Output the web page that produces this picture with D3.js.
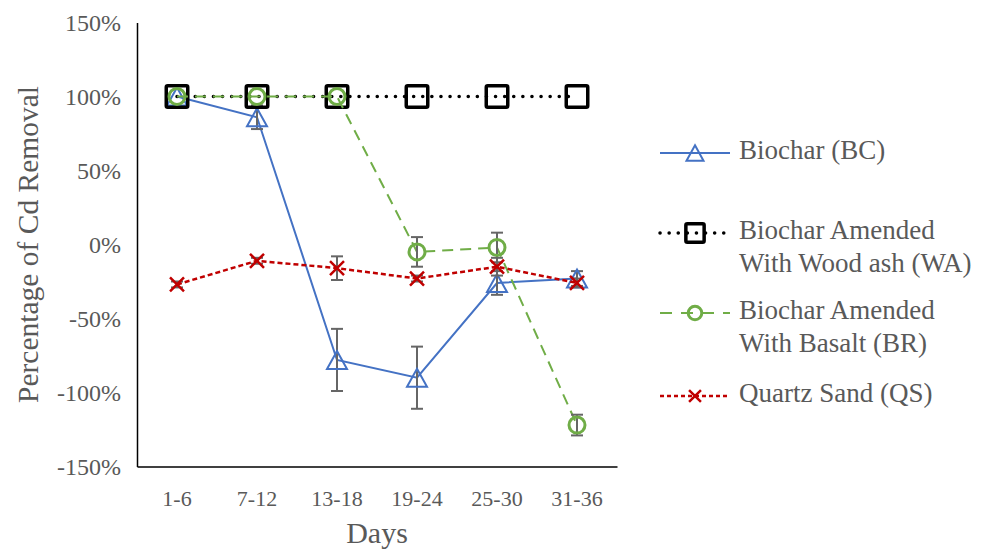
<!DOCTYPE html>
<html>
<head>
<meta charset="utf-8">
<script src="https://cdn.jsdelivr.net/npm/d3@7/dist/d3.min.js"></script>
<style>
  html, body { margin: 0; padding: 0; background: #fff; }
  svg { display: block; }
</style>
</head>
<body>
<svg id="chart" width="998" height="550"></svg>
<script>
// Sampling periods (days)
const categories = ["1-6", "7-12", "13-18", "19-24", "25-30", "31-36"];

// Cd removal (%) per series, with standard-error half widths
const bcValues = [100, 86, -78, -90, -26, -23];
const bcErrors = [0, 8, 21, 21, 8, 5];
const waValues = [100, 100, 100, 100, 100, 100];
const waErrors = [0, 0, 0, 0, 0, 0];
const brValues = [100, 100, 100, -5, -2, -122];
const brErrors = [0, 0, 0, 10, 10, 7];
const qsValues = [-27, -11, -16, -23, -15, -26];
const qsErrors = [2, 2, 8, 2, 6, 3];

const yTicks = [-150, -100, -50, 0, 50, 100, 150];

const seriesNames = [
  ["Biochar (BC)"],
  ["Biochar Amended", "With Wood ash (WA)"],
  ["Biochar Amended", "With Basalt (BR)"],
  ["Quartz Sand (QS)"]
];

const series = [
  { name: seriesNames[0], values: bcValues, errors: bcErrors, color: "#4472C4", width: 2, dash: null, cap: "butt", marker: "triangle" },
  { name: seriesNames[1], values: waValues, errors: waErrors, color: "#000000", width: 3.5, dash: "0.1 9", cap: "round", marker: "square" },
  { name: seriesNames[2], values: brValues, errors: brErrors, color: "#70AD47", width: 2, dash: "11 7", cap: "butt", marker: "circle" },
  { name: seriesNames[3], values: qsValues, errors: qsErrors, color: "#C00000", width: 2.5, dash: "5 3", cap: "butt", marker: "cross" }
];

const FONT = "'Liberation Serif', 'DejaVu Serif', serif";
const TEXT_COLOR = "#595959";

const svg = d3.select("#chart");
const plotLeft = 137, plotRight = 617, plotTop = 22.5, plotBottom = 466.5;

const x = d3.scaleBand().domain(categories).range([plotLeft, plotRight]);
const y = d3.scaleLinear().domain([-150, 150]).range([plotBottom, plotTop]);
const cx = c => x(c) + x.bandwidth() / 2;

function styleText(sel, size) {
  sel.style("font-family", FONT).style("font-size", size + "px").style("fill", TEXT_COLOR);
}

// Axes
const yAxis = svg.append("g").attr("transform", `translate(${plotLeft},0)`)
  .call(d3.axisLeft(y).tickValues(yTicks).tickSize(0).tickPadding(16).tickFormat(d => d + "%"));
yAxis.attr("font-family", null);
yAxis.select(".domain").attr("stroke", "#000").attr("stroke-width", 1.5);
styleText(yAxis.selectAll("text"), 24);

const xAxis = svg.append("g").attr("transform", `translate(0,${plotBottom})`)
  .call(d3.axisBottom(x).tickSize(0).tickPadding(24));
xAxis.attr("font-family", null);
xAxis.select(".domain").attr("stroke", "#000").attr("stroke-width", 1.5);
styleText(xAxis.selectAll("text"), 22);

// Axis titles
styleText(svg.append("text")
  .attr("transform", `translate(31,${(plotTop + plotBottom) / 2}) rotate(-90)`)
  .attr("text-anchor", "middle").attr("dominant-baseline", "middle")
  .text("Percentage of Cd Removal"), 29.5);

styleText(svg.append("text")
  .attr("x", (plotLeft + plotRight) / 2).attr("y", 543)
  .attr("text-anchor", "middle")
  .text("Days"), 30);

// Marker shapes
function drawMarker(g, type, color, px, py, scale) {
  const s = scale || 1;
  if (type === "triangle") {
    const h = 18 * s, w = 20 * s;
    g.append("path")
      .attr("d", `M${px},${py - h / 2}L${px + w / 2},${py + h / 2}L${px - w / 2},${py + h / 2}Z`)
      .attr("fill", "none").attr("stroke", color).attr("stroke-width", 2);
  } else if (type === "square") {
    const a = 21.5 * s;
    g.append("rect").attr("x", px - a / 2).attr("y", py - a / 2).attr("width", a).attr("height", a)
      .attr("rx", 1.5).attr("fill", "none").attr("stroke", color).attr("stroke-width", 3.5);
  } else if (type === "circle") {
    g.append("circle").attr("cx", px).attr("cy", py).attr("r", 8 * s)
      .attr("fill", "none").attr("stroke", color).attr("stroke-width", 3);
  } else if (type === "cross") {
    const a = 7 * s;
    g.append("path")
      .attr("d", `M${px - a},${py - a}L${px + a},${py + a}M${px - a},${py + a}L${px + a},${py - a}`)
      .attr("fill", "none").attr("stroke", color).attr("stroke-width", 2.5);
  }
}

const line = d3.line().x(d => cx(d.c)).y(d => y(d.v));

series.forEach(s => {
  const pts = categories.map((c, i) => ({ c, v: s.values[i], e: s.errors[i] }));
  const g = svg.append("g");
  g.append("path").datum(pts).attr("d", line)
    .attr("fill", "none").attr("stroke", s.color).attr("stroke-width", s.width)
    .attr("stroke-dasharray", s.dash).attr("stroke-linecap", s.cap);

  // Error bars
  const eb = g.append("g").attr("stroke", "#666666").attr("stroke-width", 2);
  pts.filter(d => d.e > 0).forEach(d => {
    const px = cx(d.c);
    eb.append("line").attr("x1", px).attr("x2", px).attr("y1", y(d.v + d.e)).attr("y2", y(d.v - d.e));
    eb.append("line").attr("x1", px - 6).attr("x2", px + 6).attr("y1", y(d.v + d.e)).attr("y2", y(d.v + d.e));
    eb.append("line").attr("x1", px - 6).attr("x2", px + 6).attr("y1", y(d.v - d.e)).attr("y2", y(d.v - d.e));
  });

  pts.forEach(d => drawMarker(g, s.marker, s.color, cx(d.c), y(d.v)));
});

// Legend
const legendRows = [153, 233, 313, 396];
series.forEach((s, i) => {
  const ly = legendRows[i];
  const g = svg.append("g");
  g.append("line").attr("x1", 660).attr("x2", 730).attr("y1", ly).attr("y2", ly)
    .attr("stroke", s.color).attr("stroke-width", s.marker === "square" ? 3.5 : s.width)
    .attr("stroke-dasharray", s.marker === "circle" ? "12 9" : (s.marker === "cross" ? "4 3" : s.dash))
    .attr("stroke-linecap", s.cap);
  drawMarker(g, s.marker, s.color, 695, ly, 0.85);
  s.name.forEach((t, j) => {
    styleText(g.append("text").attr("x", 739).attr("y", ly + j * 33)
      .attr("dominant-baseline", "middle")
      .text(t), 27);
  });
});
</script>
</body>
</html>
